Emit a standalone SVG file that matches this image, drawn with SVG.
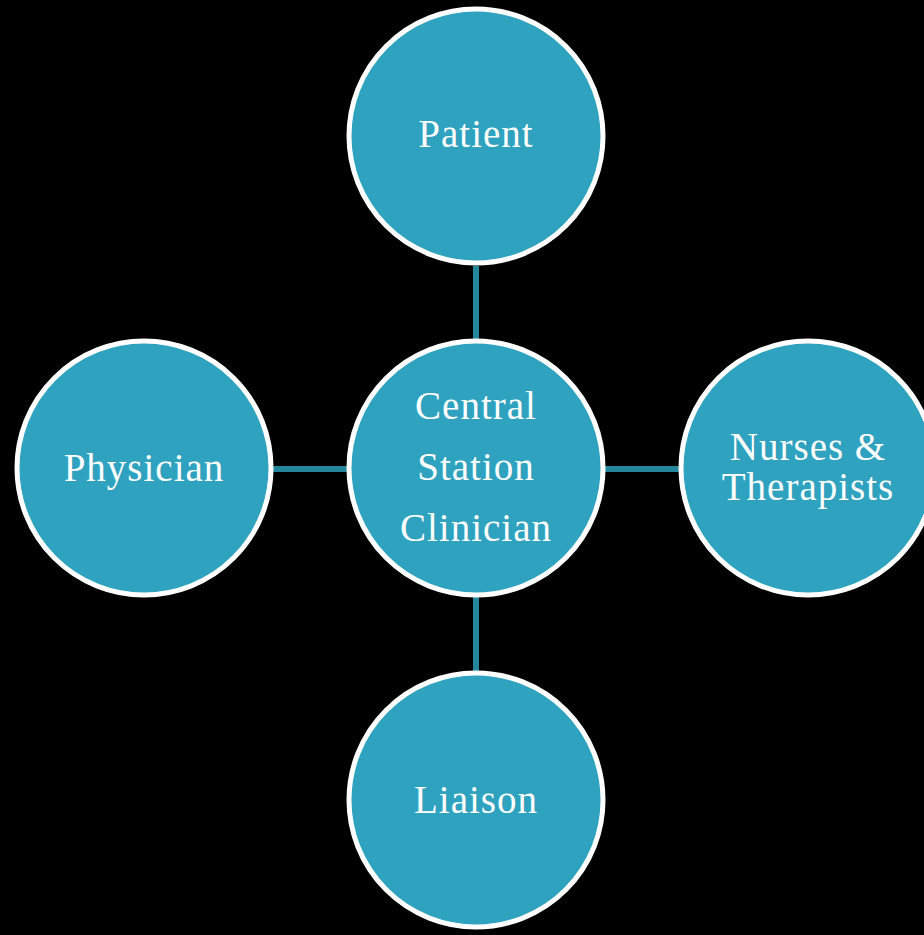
<svg xmlns="http://www.w3.org/2000/svg" width="924" height="935" viewBox="0 0 924 935">
<style>
.node{fill:#2ea2bf;stroke:#ffffff;stroke-width:5}
.lbl{font-family:"Liberation Serif","DejaVu Serif",serif;font-size:39px;fill:#ffffff;text-anchor:middle;letter-spacing:1px}
.conn{stroke:#23869c;stroke-width:6;fill:none}
</style>
<rect width="924" height="935" fill="#000000"/>
<g id="connectors">
<line class="conn" x1="476" y1="266" x2="476" y2="340"/>
<line class="conn" x1="476" y1="596" x2="476" y2="672"/>
<line class="conn" x1="272" y1="469" x2="348" y2="469"/>
<line class="conn" x1="604" y1="469" x2="680" y2="469"/>
</g>
<g id="patient">
<circle class="node" cx="476" cy="136" r="127"/>
<text class="lbl" x="476" y="147">Patient</text>
</g>
<g id="central">
<circle class="node" cx="476" cy="468" r="127"/>
<text class="lbl" x="476" y="419">Central</text>
<text class="lbl" x="476" y="480">Station</text>
<text class="lbl" x="476" y="541">Clinician</text>
</g>
<g id="physician">
<circle class="node" cx="144" cy="468" r="127"/>
<text class="lbl" x="144" y="481">Physician</text>
</g>
<g id="nurses">
<circle class="node" cx="808" cy="468" r="127"/>
<text class="lbl" x="808" y="460">Nurses &amp;</text>
<text class="lbl" x="808" y="500">Therapists</text>
</g>
<g id="liaison">
<circle class="node" cx="476" cy="800" r="127"/>
<text class="lbl" x="476" y="813">Liaison</text>
</g>
</svg>
